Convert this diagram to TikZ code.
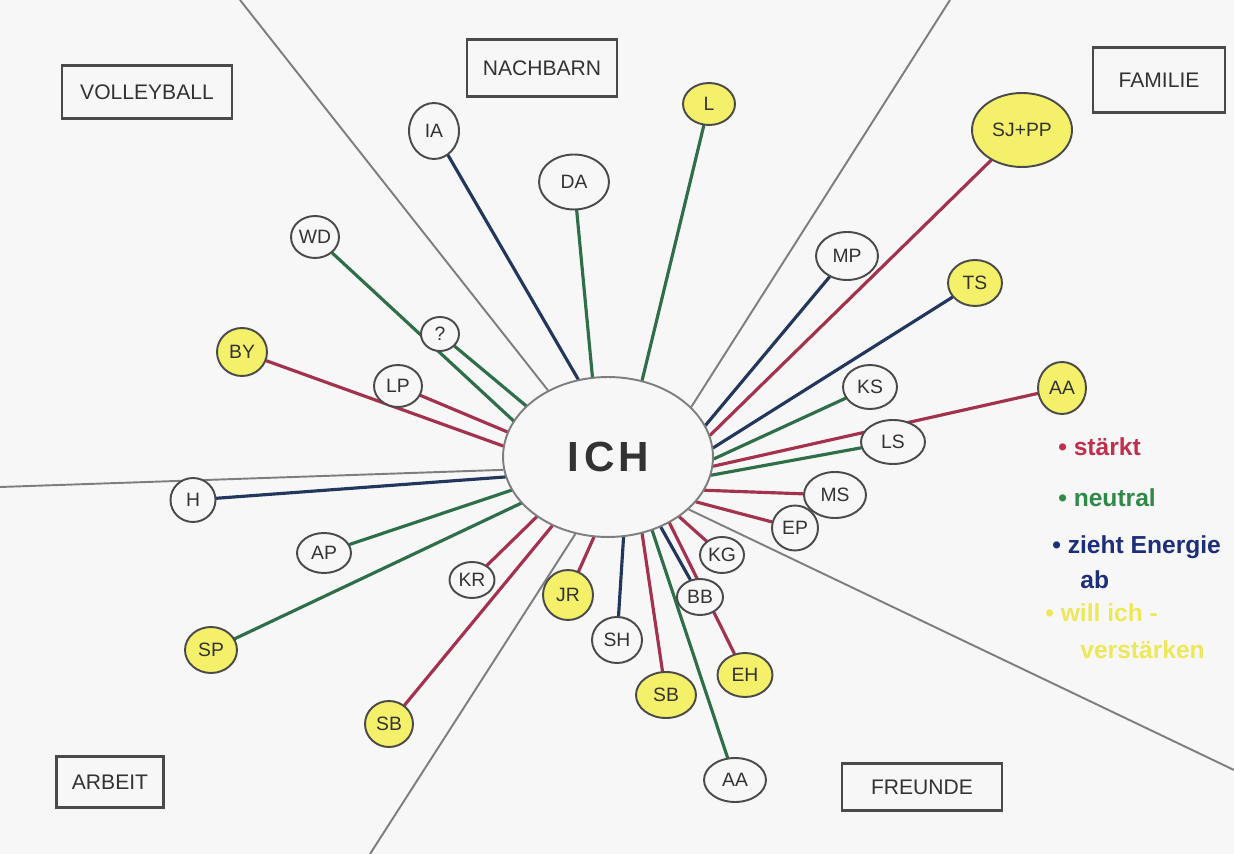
\documentclass[tikz,border=0pt]{standalone}
\usepackage{fontspec}
\setmainfont{Liberation Sans}
\usetikzlibrary{shapes.geometric}
\definecolor{bgc}{HTML}{F7F7F7}
\definecolor{outl}{HTML}{4A4A4A}
\definecolor{divg}{HTML}{7E7E7E}
\definecolor{rl}{HTML}{A3324E}
\definecolor{gl}{HTML}{2E6E48}
\definecolor{bl}{HTML}{23375E}
\definecolor{yel}{HTML}{F4F06A}
\definecolor{txt}{HTML}{333333}
\definecolor{legr}{HTML}{C0304E}
\definecolor{legg}{HTML}{2F8A4A}
\definecolor{legb}{HTML}{1D2F7A}
\definecolor{legy}{HTML}{ECE85A}
\pgfdeclarelayer{back}
\pgfdeclarelayer{lines}
\pgfsetlayers{back,lines,main}
\tikzset{
  pers/.style={ellipse, draw=outl, line width=1.1pt, fill=bgc, inner sep=0pt,
    text=txt, font=\fontsize{11}{11}\selectfont},
  yp/.style={pers, fill=yel},
  cat/.style={draw=outl, line width=1.2pt, fill=bgc, inner sep=0pt, text=txt,
    font=\fontsize{12}{12}\selectfont},
  conn/.style={line width=1.8pt, line cap=round},
  divline/.style={draw=divg, line width=1.1pt},
  leg/.style={anchor=west, inner sep=0pt, font=\bfseries\fontsize{14}{14}\selectfont}
}
\begin{document}
\begin{tikzpicture}[x=0.02cm, y=-0.02cm]
\begin{pgfonlayer}{back}
  \fill[bgc] (0,0) rectangle (1234,854);
\end{pgfonlayer}
\useasboundingbox (0,0) rectangle (1234,854);

% centre
\node[ellipse, draw=divg, line width=1.1pt, fill=bgc, minimum width=4.2cm, minimum height=3.2cm,
  inner sep=0pt, font=\bfseries\fontsize{24}{24}\selectfont, text=txt] (ich) at (608,457)
  {I\hspace{3pt}C\hspace{2pt}H};

% category boxes
\node[cat, minimum width=3.4cm, minimum height=1.06cm] (vb) at (147,92) {VOLLEYBALL};
\node[cat, minimum width=3.0cm, minimum height=1.14cm] (nb) at (542,68) {NACHBARN};
\node[cat, minimum width=2.64cm, minimum height=1.3cm] (fa) at (1159,80) {FAMILIE};
\node[cat, minimum width=2.14cm, minimum height=1.02cm] (ar) at (110,782) {ARBEIT};
\node[cat, minimum width=3.2cm, minimum height=0.94cm] (fr) at (922,787) {FREUNDE};

% people
\node[pers, minimum width=0.96cm, minimum height=0.84cm] (wd) at (315,237) {WD};
\node[pers, minimum width=0.76cm, minimum height=0.68cm] (qq) at (440,334) {?};
\node[pers, minimum width=0.96cm, minimum height=0.84cm] (lp) at (398,386) {LP};
\node[yp, minimum width=1.0cm, minimum height=0.96cm] (by) at (242,352) {BY};
\node[pers, minimum width=0.9cm, minimum height=0.88cm] (h) at (193,500) {H};
\node[pers, minimum width=1.08cm, minimum height=0.8cm] (ap) at (324,553) {AP};
\node[yp, minimum width=1.04cm, minimum height=0.92cm] (sp) at (211,650) {SP};
\node[pers, minimum width=0.9cm, minimum height=0.72cm] (kr) at (472,580) {KR};
\node[yp, minimum width=0.96cm, minimum height=0.92cm] (sbl) at (389,724) {SB};
\node[yp, minimum width=1.0cm, minimum height=1.0cm] (jr) at (568,595) {JR};
\node[pers, minimum width=1.0cm, minimum height=0.92cm] (sh) at (617,640) {SH};
\node[yp, minimum width=1.2cm, minimum height=0.92cm] (sbb) at (666,695) {SB};
\node[pers, minimum width=1.24cm, minimum height=0.88cm] (aab) at (735,780) {AA};
\node[pers, minimum width=0.92cm, minimum height=0.72cm] (bb) at (700,597) {BB};
\node[yp, minimum width=1.1cm, minimum height=0.88cm] (eh) at (745,675) {EH};
\node[pers, minimum width=0.88cm, minimum height=0.72cm] (kg) at (722,555) {KG};
\node[pers, minimum width=0.92cm, minimum height=0.9cm] (ep) at (795,528) {EP};
\node[pers, minimum width=1.24cm, minimum height=0.92cm] (ms) at (835,495) {MS};
\node[pers, minimum width=1.28cm, minimum height=0.88cm] (ls) at (893,442) {LS};
\node[pers, minimum width=1.08cm, minimum height=0.88cm] (ks) at (870,387) {KS};
\node[yp, minimum width=0.96cm, minimum height=1.04cm] (aar) at (1062,388) {AA};
\node[yp, minimum width=1.08cm, minimum height=0.92cm] (ts) at (975,283) {TS};
\node[pers, minimum width=1.24cm, minimum height=0.96cm] (mp) at (847,256) {MP};
\node[yp, minimum width=2.0cm, minimum height=1.48cm] (sjpp) at (1022,130) {SJ+PP};
\node[pers, minimum width=1.0cm, minimum height=1.12cm] (ia) at (434,131) {IA};
\node[pers, minimum width=1.4cm, minimum height=1.1cm] (da) at (574,182) {DA};
\node[yp, minimum width=1.04cm, minimum height=0.84cm] (l) at (709,104) {L};

% free ends of the dividing lines
\coordinate (e1) at (240,0);
\coordinate (e2) at (950,0);
\coordinate (e3) at (0,487);
\coordinate (e4) at (370,854);
\coordinate (e5) at (1234,770);

\begin{pgfonlayer}{lines}
  \draw[divline] (ich.132.3) -- (e1);
  \draw[divline] (ich.31.8) -- (e2);
  \draw[divline] (ich.187.2) -- (e3);
  \draw[divline] (ich.247) -- (e4);
  \draw[divline] (ich.327.7) -- (e5);
  % volleyball
  \draw[conn, gl] (ich.159) -- (wd);
  \draw[conn, gl] (ich.148.5) -- (qq);
  \draw[conn, rl] (ich.166.5) -- (lp);
  \draw[conn, rl] (ich.174.6) -- (by);
  % arbeit
  \draw[conn, bl] (ich.191.7) -- (h);
  \draw[conn, gl] (ich.199.2) -- (ap);
  \draw[conn, gl] (ich.208.1) -- (sp);
  \draw[conn, rl] (ich.220.7) -- (kr);
  \draw[conn, rl] (ich.231) -- (sbl);
  \draw[conn, rl] (ich.260.8) -- (jr);
  % freunde
  \draw[conn, bl] (ich.281.6) -- (sh);
  \draw[conn, rl] (ich.294.5) -- (sbb);
  \draw[conn, gl] (ich.301) -- (aab);
  \draw[conn, bl] (ich.307.2) -- (bb);
  \draw[conn, rl] (ich.313.8) -- (eh);
  \draw[conn, rl] (ich.320.9) -- (kg);
  \draw[conn, rl] (ich.333.4) -- (ep);
  \draw[conn, rl] (ich.341.2) -- (ms);
  % familie
  \draw[conn, gl] (ich.350.4) -- (ls);
  \draw[conn, gl] (ich.359.5) -- (ks);
  \draw[conn, rl] (ich.355.1) -- (aar);
  \draw[conn, bl] (ich.5.4) -- (ts);
  \draw[conn, bl] (ich.18.1) -- (mp);
  \draw[conn, rl] (ich.12.2) -- (sjpp);
  % nachbarn
  \draw[conn, bl] (ich.111.4) -- (ia);
  \draw[conn, gl] (ich.101.4) -- (da);
  \draw[conn, gl] (ich.66.1) -- (l);
\end{pgfonlayer}

% legend
\node[leg, text=legr] (lg1) at (1058,447) {\textbullet\ stärkt};
\node[leg, text=legg] (lg2) at (1058,498) {\textbullet\ neutral};
\node[leg, text=legb] (lg3) at (1052,547) {\textbullet\ zieht Energie};
\node[leg, text=legb] (lg3b) at (1080,580) {ab};
\node[leg, text=legy] (lg4) at (1045,613) {\textbullet\ will ich -};
\node[leg, text=legy] (lg4b) at (1080,650) {verstärken};
\end{tikzpicture}
\end{document}
